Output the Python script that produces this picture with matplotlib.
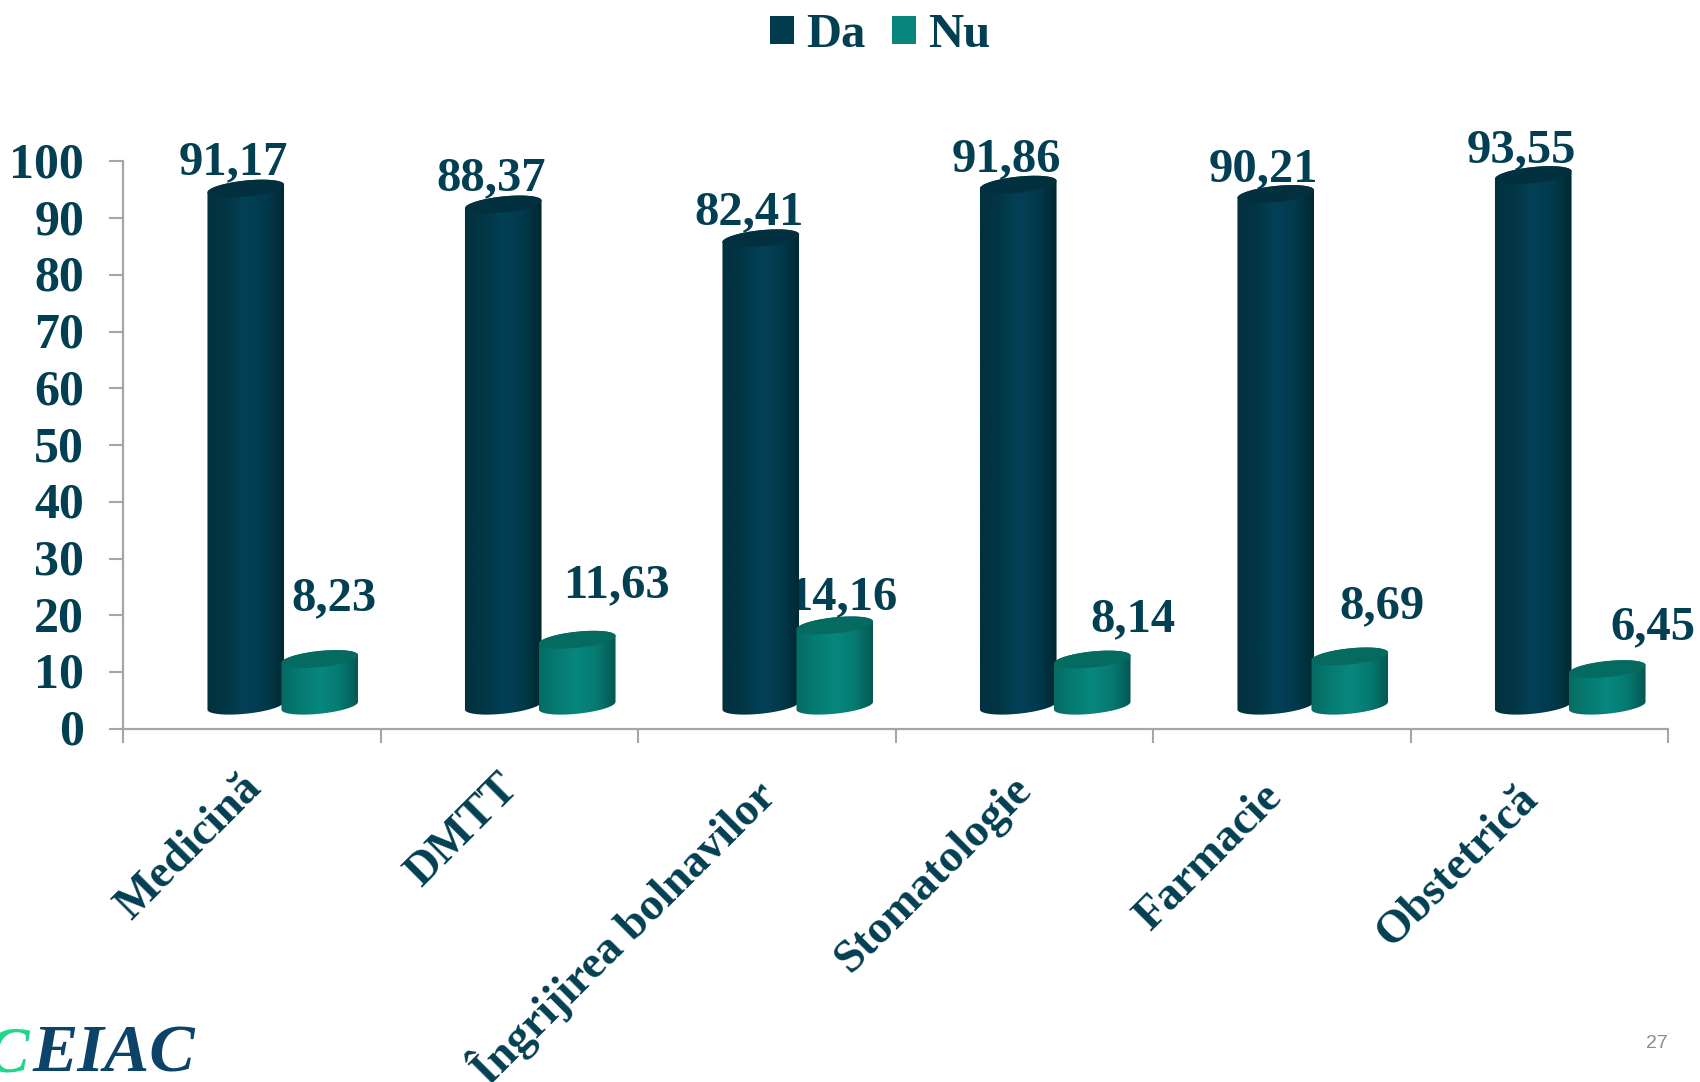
import matplotlib
matplotlib.use('Agg')
import matplotlib.pyplot as plt
import numpy as np
from matplotlib.colors import LinearSegmentedColormap
from matplotlib.patches import Patch, PathPatch
from matplotlib.path import Path
from matplotlib.transforms import Affine2D, IdentityTransform

categories = ['Medicină', 'DMTT', 'Îngrijirea bolnavilor', 'Stomatologie', 'Farmacie', 'Obstetrică']
da_values = [91.17, 88.37, 82.41, 91.86, 90.21, 93.55]
nu_values = [8.23, 11.63, 14.16, 8.14, 8.69, 6.45]
y_ticks = list(range(0, 101, 10))

# hand placed label shifts in pixels, from the top of each bar
da_label_dx = [-12, -12, -12, -12, -12, -12]
da_label_dy = [26, 26, 26, 25, 25, 25]
nu_label_dx = [14, 39, 8, 41, 32, 46]
nu_label_dy = [61, 54, 28, 40, 50, 42]
# and for the slanted category names
cat_label_dx = [-12, -12, -17, -14, -21, -22]
cat_label_dy = [-16, -16, -18, -18, -25, -27]

DARK = '#033f52'
TEAL = '#07857c'
GREY = '#a6a6a6'
SERIF = 'Liberation Serif'

W, H = 1700, 1082
fig = plt.figure(figsize=(17, 10.82), dpi=100)
ax = fig.add_axes([123 / W, (H - 728.7) / H, 1545 / W, 567.2 / H])
ax.set_xlim(0, 6)
ax.set_ylim(0, 100)

da_cmap = LinearSegmentedColormap.from_list('da', ['#02303f', '#023645', '#034058', '#023a4c', '#01262f'])
nu_cmap = LinearSegmentedColormap.from_list('nu', ['#056a62', '#067b72', '#08877e', '#067a71', '#04554f'])


def ellipse(cx, cy, t):
    # slightly tilted ellipse, pixels
    a, b, tilt = 38.5, 8, np.radians(6)
    x = cx + a * np.cos(t) * np.cos(tilt) - b * np.sin(t) * np.sin(tilt)
    y = cy + a * np.cos(t) * np.sin(tilt) + b * np.sin(t) * np.cos(tilt)
    return np.column_stack([x, y])


def cylinder(cat, value, shift, cmap, cap, z):
    cx, top = ax.transData.transform((cat + 0.5, value))
    bottom = ax.transData.transform((cat + 0.5, 0))[1] + 23
    cx = cx + shift
    top = top + 23
    lower = ellipse(cx, bottom, np.linspace(np.pi, 2 * np.pi, 40))
    upper = ellipse(cx, top, np.linspace(0, np.pi, 40))
    body = Path(np.vstack([lower, upper, lower[:1]]), closed=True)
    inv = ax.transData.inverted()
    x0, y0 = inv.transform((cx - 40, bottom - 14))
    x1, y1 = inv.transform((cx + 40, top + 14))
    grad = np.linspace(0, 1, 128).reshape(1, -1)
    im = ax.imshow(grad, extent=(x0, x1, y0, y1), aspect='auto', cmap=cmap, zorder=z, clip_on=True)
    im.set_clip_path(body, IdentityTransform())
    lid = Path(ellipse(cx, top, np.linspace(0, 2 * np.pi, 80)), closed=True)
    ax.add_patch(PathPatch(lid, transform=IdentityTransform(), fc=cap, ec='none', zorder=z + 0.1, clip_on=False))
    return cx, top


for i in range(len(categories)):
    cx, top = cylinder(i, da_values[i], -6, da_cmap, '#03303f', 3)
    ax.text(cx + da_label_dx[i], top + da_label_dy[i], f'{da_values[i]:.2f}'.replace('.', ','),
            transform=IdentityTransform(), ha='center', va='center', family=SERIF, weight='bold',
            fontsize=35, color=DARK, zorder=6, clip_on=False)
    cx, top = cylinder(i, nu_values[i], 68, nu_cmap, '#056a60', 4)
    ax.text(cx + nu_label_dx[i], top + nu_label_dy[i], f'{nu_values[i]:.2f}'.replace('.', ','),
            transform=IdentityTransform(), ha='center', va='center', family=SERIF, weight='bold',
            fontsize=35, color=DARK, zorder=2, clip_on=False)

ax.set_xlim(0, 6)
ax.set_ylim(0, 100)

for s in ['top', 'right']:
    ax.spines[s].set_visible(False)
for s in ['left', 'bottom']:
    ax.spines[s].set_color(GREY)
    ax.spines[s].set_linewidth(1.6)

ax.set_yticks(y_ticks)
ax.set_yticklabels([str(v) for v in y_ticks], family=SERIF, weight='bold', fontsize=36, color=DARK)
ax.tick_params(axis='y', length=10, width=1.5, color=GREY, pad=18)
for lab in ax.get_yticklabels():
    lab.set_transform(lab.get_transform() + Affine2D().translate(0, 1.5))
ax.set_xticks(range(len(categories) + 1))
ax.set_xticklabels([])
ax.tick_params(axis='x', which='major', length=10, width=1.5, color=GREY)
ax.set_xticks(np.arange(len(categories)) + 0.5, minor=True)
ax.set_xticklabels(categories, minor=True, rotation=45, ha='right', va='top', rotation_mode='anchor',
                   family=SERIF, weight='bold', fontsize=33.5, color=DARK)
ax.tick_params(axis='x', which='minor', length=0, pad=16)
for i, lab in enumerate(ax.get_xticklabels(minor=True)):
    lab.set_transform(lab.get_transform() + Affine2D().translate(cat_label_dx[i], cat_label_dy[i]))

leg_handles = [Patch(fc='#023a4e', ec='none', label='Da'), Patch(fc='#07857c', ec='none', label='Nu')]
leg = fig.legend(handles=leg_handles, loc='center', bbox_to_anchor=(880 / W, 1 - 35 / H), ncol=2, frameon=False,
                 prop={'family': SERIF, 'weight': 'bold', 'size': 35}, handlelength=0.5, handleheight=0.5,
                 handletextpad=0.24, columnspacing=0.55, borderpad=0)
for t in leg.get_texts():
    t.set_color(DARK)

# logo and slide number
fig.text(-14 / W, 1 - 1071 / H, 'C', family=SERIF, weight='bold', style='italic', fontsize=47, color='#1fd68a')
fig.text(33 / W, 1 - 1071 / H, 'EIAC', family=SERIF, weight='bold', style='italic', fontsize=49, color='#0b4468')
fig.text(1657 / W, 1 - 1043 / H, '27', family='Liberation Sans', fontsize=14, color='#8c8c8c', ha='center', va='center')

fig.savefig('out.png', dpi=100)
